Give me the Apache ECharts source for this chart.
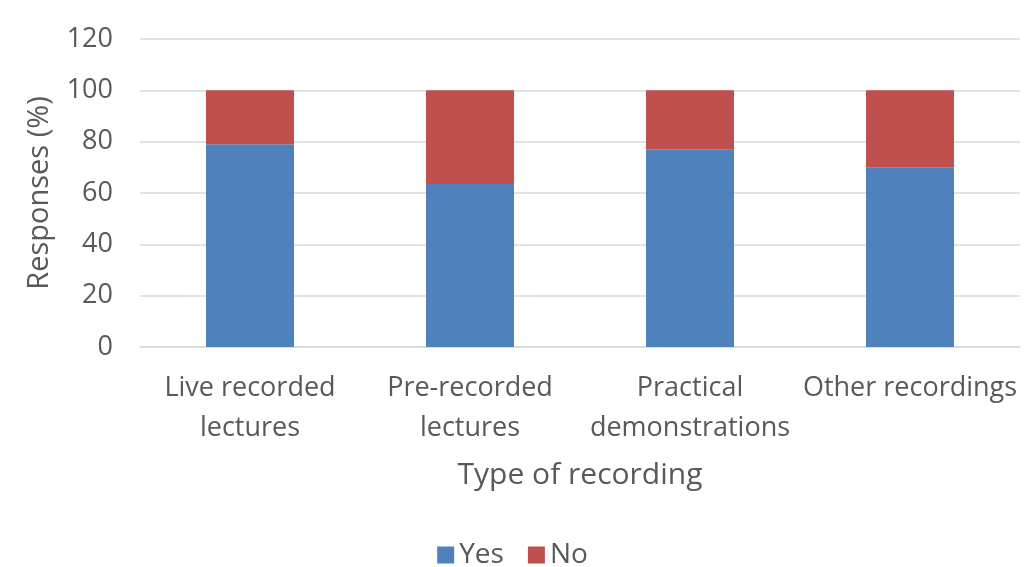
<!DOCTYPE html>
<html><head><meta charset="utf-8">
<script src="https://cdn.jsdelivr.net/npm/echarts@6/dist/echarts.min.js"></script>
<style>html,body{margin:0;padding:0;background:#fff}#c{width:1025px;height:567px}</style>
</head><body><div id="c"></div>
<script>
var categories = ['Live recorded\nlectures', 'Pre-recorded\nlectures', 'Practical\ndemonstrations', 'Other recordings'];
var yesValues = [79, 63.5, 77, 70];
var noValues = [21, 36.5, 23, 30];
var yTicks = [0, 20, 40, 60, 80, 100, 120];

var font = 'Open Sans';
var chart = echarts.init(document.getElementById('c'));
chart.setOption({
  animation: false,
  grid: {left: 140, right: 5, top: 39, bottom: 220, containLabel: false},
  legend: {
    bottom: -7, itemWidth: 17, itemHeight: 17, itemGap: 24, icon: 'rect',
    textStyle: {fontFamily: font, fontSize: 28, color: '#595959'},
    data: ['Yes', 'No']
  },
  xAxis: {
    type: 'category', data: categories,
    name: 'Type of recording', nameLocation: 'middle', nameGap: 113,
    nameTextStyle: {fontFamily: font, fontSize: 30, color: '#595959'},
    axisLine: {lineStyle: {color: '#d9d9d9', width: 1.5}},
    axisTick: {show: false},
    axisLabel: {fontFamily: font, fontSize: 27, color: '#595959', lineHeight: 40, margin: 21, interval: 0}
  },
  yAxis: {
    type: 'value', min: 0, max: 120, interval: 20,
    name: 'Responses (%)', nameLocation: 'middle', nameGap: 86,
    nameTextStyle: {fontFamily: font, fontSize: 29, color: '#595959'},
    axisLine: {show: false}, axisTick: {show: false},
    splitLine: {lineStyle: {color: '#d9d9d9', width: 1.5}},
    axisLabel: {fontFamily: font, fontSize: 27, color: '#595959', margin: 27,
      formatter: function(v){ return yTicks.indexOf(v) >= 0 ? String(v) : ''; }}
  },
  series: [
    {name: 'Yes', type: 'bar', stack: 's', data: yesValues, barWidth: '40%', itemStyle: {color: '#4f81bd'}},
    {name: 'No', type: 'bar', stack: 's', data: noValues, barWidth: '40%', itemStyle: {color: '#c0504d'}}
  ]
});
</script></body></html>
